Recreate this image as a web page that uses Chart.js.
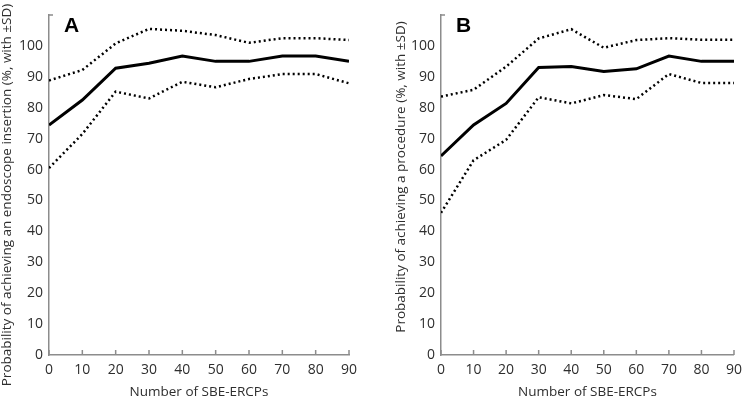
<!DOCTYPE html>
<html>
<head>
<meta charset="utf-8">
<script src="https://cdn.jsdelivr.net/npm/chart.js@4.4.0/dist/chart.umd.min.js"></script>
<style>
  body { margin: 0; background: #fff; }
  .wrap { position: absolute; top: 0; height: 400px; }
</style>
</head>
<body>
<div class="wrap" style="left:0;width:375px"><canvas id="chartA"></canvas></div>
<div class="wrap" style="left:375px;width:374px"><canvas id="chartB"></canvas></div>
<script>
var xValues = [0, 10, 20, 30, 40, 50, 60, 70, 80, 90];

var meanA  = [74.4, 82.5, 92.8, 94.4, 96.7, 95.0, 95.0, 96.7, 96.7, 95.0];
var upperA = [88.8, 92.2, 100.8, 105.5, 104.9, 103.5, 101.0, 102.5, 102.5, 101.9];
var lowerA = [60.5, 71.5, 85.2, 83.0, 88.4, 86.6, 89.3, 90.9, 90.9, 87.9];

var meanB  = [64.4, 74.4, 81.4, 93.0, 93.3, 91.7, 92.6, 96.7, 95.0, 95.0];
var upperB = [83.6, 85.8, 93.3, 102.4, 105.4, 99.4, 101.9, 102.5, 102.0, 102.0];
var lowerB = [46.0, 63.0, 69.6, 83.4, 81.4, 84.1, 82.8, 90.9, 88.0, 88.0];

var yTicks = [0, 10, 20, 30, 40, 50, 60, 70, 80, 90, 100];

var textColor = '#2e2e2e';
var axisColor = '#8c8c8c';
var fontName = "'Open Sans', sans-serif";

function pts(arr) {
    return xValues.map(function(x, i) { return {x: x, y: arr[i]}; });
}

// panel letter, y title and inside tick marks
var extras = {
    id: 'extras',
    afterDraw: function(chart, args, opts) {
        var ctx = chart.ctx;
        var xs = chart.scales.x, ys = chart.scales.y;
        ctx.save();
        ctx.strokeStyle = axisColor;
        ctx.lineWidth = 1.5;
        ctx.beginPath();
        xValues.forEach(function(v) {
            var px = xs.getPixelForValue(v);
            ctx.moveTo(px, ys.bottom);
            ctx.lineTo(px, ys.bottom - 5);
        });
        var top = ys.getPixelForValue(110);
        ctx.moveTo(xs.left, top);
        ctx.lineTo(xs.left + 4, top);
        ctx.stroke();

        ctx.fillStyle = '#000';
        ctx.font = 'bold 21px Arial';
        ctx.textBaseline = 'middle';
        ctx.fillText(opts.letter, chart.chartArea.left + 15, 26);

        ctx.translate(opts.titleX, opts.titleY);
        ctx.rotate(-Math.PI / 2);
        ctx.fillStyle = textColor;
        ctx.font = '13.5px ' + fontName;
        ctx.textAlign = 'center';
        ctx.textBaseline = 'alphabetic';
        ctx.fillText(opts.title, 0, 0);
        ctx.restore();
    }
};

function makeChart(id, letter, mean, upper, lower, yTitle, titleX, titleY, yWidth, rightPad) {
    var ctx = document.getElementById(id).getContext('2d');
    return new Chart(ctx, {
        type: 'line',
        data: {
            datasets: [{
                data: pts(upper),
                borderColor: '#000',
                borderWidth: 2.5,
                borderDash: [2, 3],
                pointRadius: 0
            }, {
                data: pts(mean),
                borderColor: '#000',
                borderWidth: 3,
                pointRadius: 0
            }, {
                data: pts(lower),
                borderColor: '#000',
                borderWidth: 2.5,
                borderDash: [2, 3],
                pointRadius: 0
            }]
        },
        options: {
            responsive: true,
            maintainAspectRatio: false,
            animation: false,
            layout: { padding: { left: 0, top: 15, right: rightPad, bottom: 0 } },
            plugins: {
                legend: { display: false },
                tooltip: { enabled: false },
                extras: { letter: letter, title: yTitle, titleX: titleX, titleY: titleY }
            },
            scales: {
                x: {
                    type: 'linear',
                    min: 0,
                    max: 90,
                    grid: { display: false, drawTicks: false },
                    border: { color: axisColor, width: 1.5 },
                    ticks: {
                        stepSize: 10,
                        padding: 7,
                        color: textColor,
                        font: { family: fontName, size: 14 }
                    },
                    title: {
                        display: true,
                        text: 'Number of SBE-ERCPs',
                        color: textColor,
                        font: { family: fontName, size: 13.5 },
                        padding: { top: 3, bottom: 0 }
                    },
                    afterFit: function(s) { s.height = 45; }
                },
                y: {
                    min: 0,
                    max: 110,
                    afterBuildTicks: function(s) {
                        s.ticks = yTicks.map(function(v) { return {value: v}; });
                    },
                    grid: { display: false, drawTicks: false },
                    border: { color: axisColor, width: 1.5 },
                    ticks: {
                        padding: 6,
                        color: textColor,
                        font: { family: fontName, size: 14 }
                    },
                    afterFit: function(s) { s.width = yWidth; }
                }
            }
        },
        plugins: [extras]
    });
}

makeChart('chartA', 'A', meanA, upperA, lowerA,
    'Probability of achieving an endoscope insertion (%, with \u00b1SD)', 11, 195, 49, 26);
makeChart('chartB', 'B', meanB, upperB, lowerB,
    'Probability of achieving a procedure (%, with \u00b1SD)', 29.5, 177, 66, 8);
</script>
</body>
</html>
